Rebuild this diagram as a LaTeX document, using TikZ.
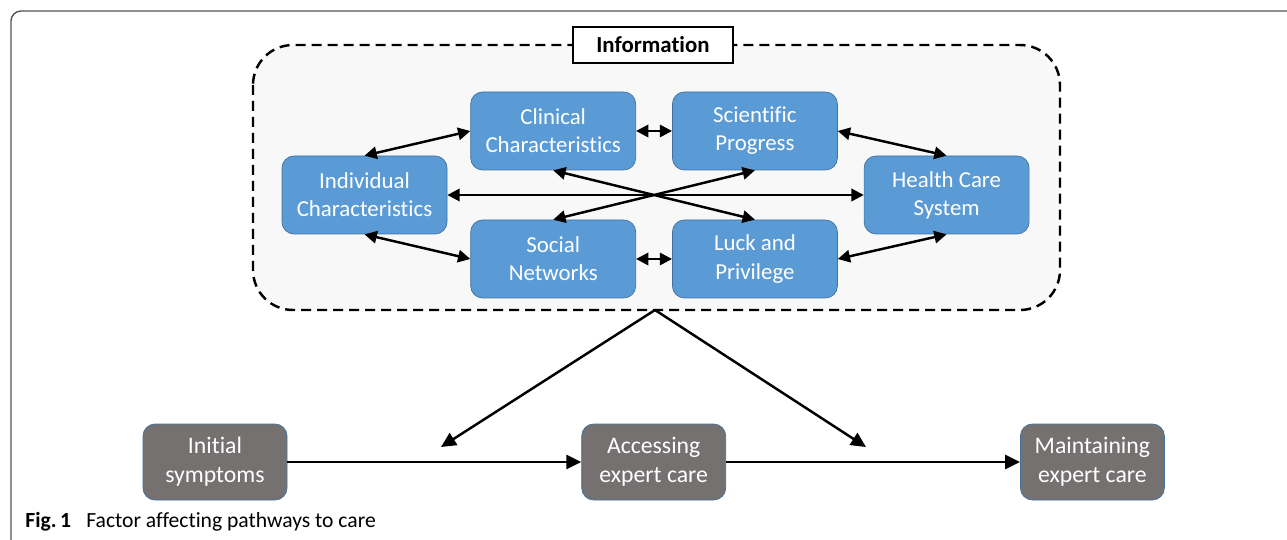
\documentclass[tikz,border=0pt]{standalone}
\usepackage{fontspec}
\setmainfont{Carlito}[Ligatures=NoCommon]
\usepackage{tikz}
\usetikzlibrary{arrows.meta,positioning}
\usepackage{xcolor}
\definecolor{factorblue}{HTML}{5B9BD5}
\definecolor{factorline}{HTML}{41719C}
\definecolor{stagegray}{HTML}{767171}
\definecolor{framefill}{HTML}{F8F8F8}
\definecolor{outerline}{HTML}{555555}

\begin{document}
\begin{tikzpicture}[
            node distance=0.46cm and 0.46cm,
            factor/.style={rectangle, rounded corners=0.24cm, draw=factorline, fill=factorblue, text=white, minimum width=3.3cm, minimum height=1.56cm, align=center, font=\fontsize{13}{16}\selectfont},
            stage/.style={rectangle, rounded corners=0.24cm, draw=factorline, fill=stagegray, text=white, minimum width=2.88cm, minimum height=1.52cm, align=center, font=\fontsize{13.5}{16.5}\selectfont},
            infolabel/.style={rectangle, draw, line width=1pt, fill=white, minimum width=3.2cm, minimum height=0.72cm, font=\fontsize{13}{15}\selectfont\bfseries},
            infoframe/.style={draw, fill=framefill, rounded corners=0.8cm, line width=1.4pt, dash pattern=on 0.2cm off 0.12cm},
            link/.style={<->, line width=1.4pt, >={Triangle[length=7pt,width=7pt]}},
            flow/.style={->, line width=1.4pt, >={Triangle[length=8.5pt,width=8pt]}}
          ]

          \useasboundingbox (0,0) rectangle (25.74,-10.8);

          % Frame
          \draw[outerline, line width=0.8pt, rounded corners=0.2cm] (0.22,-11) -- (0.22,-0.22) -- (26,-0.22);
          \draw[infoframe] (5.06,-0.9) rectangle (21.2,-6.2);
          \node[infolabel] (info) at (13.06,-0.9) {Information};

          % Nodes
          \node[factor] (ind) at (7.29,-3.9) {Individual\\Characteristics};
          \node[factor, right=of ind, yshift=1.28cm] (clin) {Clinical\\Characteristics};
          \node[factor, right=0.72cm of clin] (sci) {Scientific\\Progress};
          \node[factor, right=0.52cm of sci, yshift=-1.28cm] (health) {Health Care\\System};
          \node[factor, right=of ind, yshift=-1.28cm] (soc) {Social\\Networks};
          \node[factor, right=0.72cm of soc] (luck) {Luck and\\Privilege};

          \node[stage] (init) at (4.3,-9.24) {Initial\\symptoms};
          \node[stage, right=5.88cm of init] (access) {Accessing\\expert care};
          \node[stage, right=5.88cm of access] (maint) {Maintaining\\expert care};

          \coordinate (apex) at (13.1,-6.2);
          \coordinate (gapA) at (8.82,-8.94);
          \coordinate (gapB) at (17.32,-8.94);

          % Edges
          \draw[link] (ind.north) -- (clin.west);
          \draw[link] (ind.south) -- (soc.west);
          \draw[link] (clin.east) -- (sci.west);
          \draw[link] (soc.east) -- (luck.west);
          \draw[link] (sci.east) -- (health.north);
          \draw[link] (luck.east) -- (health.south);
          \draw[link] (ind.east) -- (health.west);
          \draw[link] (clin.south) -- (luck.north);
          \draw[link] (sci.south) -- (soc.north);

          \draw[flow] (init) -- (access);
          \draw[flow] (access) -- (maint);
          \draw[flow] (apex) -- (gapA);
          \draw[flow] (apex) -- (gapB);

          % Caption
          \node[anchor=base west, inner sep=0pt, font=\fontsize{12.3}{14}\selectfont] (caption) at (0.5,-10.54) {\textbf{Fig.\,1}\hspace{0.7em}Factor affecting pathways to care};

        \end{tikzpicture}
\end{document}
